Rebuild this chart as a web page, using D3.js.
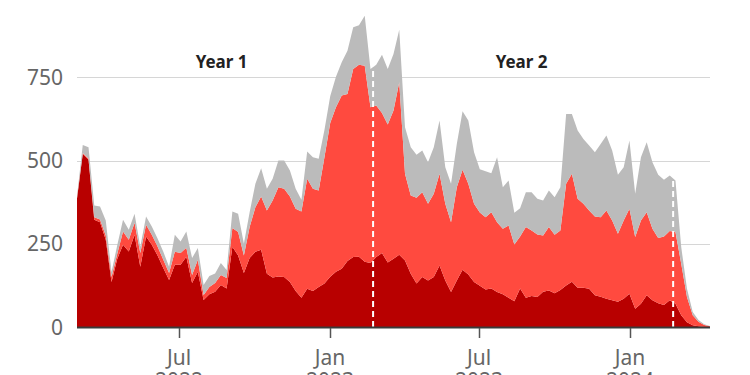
<!DOCTYPE html>
<html>
<head>
<meta charset="utf-8">
<script src="https://cdn.jsdelivr.net/npm/d3@7"></script>
<style>
  body { margin: 0; background: #fff; }
  svg text { font-family: "Noto Sans", sans-serif; }
</style>
</head>
<body>
<script>
var width = 750,
    height = 375;

// weekly series, first week starting Sun 27 Feb 2022
var firstWeek = "2022-02-27";

var darkValues = [385, 520, 502, 322, 315, 262, 135, 205, 247, 227,
    277, 181, 272, 247, 215, 177, 141, 187, 187, 211,
    132, 166, 81, 98, 106, 126, 116, 241, 215, 162,
    207, 226, 232, 160, 149, 152, 150, 135, 108, 88,
    115, 108, 120, 131, 151, 166, 175, 198, 210, 211,
    196, 192, 210, 222, 194, 205, 217, 200, 160, 131,
    150, 140, 150, 185, 140, 105, 140, 172, 158, 135,
    124, 113, 116, 105, 98, 88, 77, 116, 88, 93,
    90, 106, 110, 101, 111, 125, 136, 118, 118, 115,
    95, 91, 85, 80, 76, 85, 100, 55, 70, 95,
    80, 71, 66, 80, 70, 35, 14, 5, 2, 0, 0];

var redValues = [3, 3, 4, 8, 8, 13, 15, 15, 40, 35,
    36, 41, 35, 30, 27, 25, 21, 39, 35, 27,
    24, 36, 15, 22, 26, 30, 31, 56, 70, 53,
    93, 134, 160, 190, 231, 268, 265, 257, 247, 259,
    330, 307, 290, 379, 462, 494, 520, 502, 565, 577,
    589, 468, 455, 421, 414, 445, 518, 260, 235, 257,
    255, 230, 250, 275, 230, 210, 280, 300, 272, 235,
    220, 217, 229, 210, 197, 217, 171, 156, 212, 197,
    188, 169, 190, 176, 179, 305, 324, 267, 252, 235,
    237, 239, 265, 240, 204, 235, 255, 215, 250, 250,
    215, 196, 206, 208, 215, 155, 76, 30, 14, 6, 2];

var greyValues = [4, 24, 34, 35, 39, 45, 15, 26, 35, 30,
    27, 19, 25, 25, 24, 24, 19, 51, 35, 49,
    51, 35, 30, 33, 29, 36, 24, 50, 55, 35,
    45, 70, 85, 65, 65, 80, 85, 78, 60, 35,
    82, 95, 95, 82, 80, 92, 100, 130, 125, 118,
    150, 115, 123, 175, 167, 170, 158, 140, 145, 129,
    125, 125, 140, 160, 110, 115, 130, 176, 190, 155,
    130, 138, 117, 195, 125, 135, 95, 85, 105, 115,
    107, 105, 110, 113, 130, 210, 180, 205, 195, 195,
    193, 220, 225, 210, 177, 160, 205, 130, 190, 210,
    200, 190, 170, 167, 155, 50, 25, 10, 5, 2, 1];

var yTicks = [0, 250, 500, 750];
var xTickDates = ["2022-07-01", "2023-01-01", "2023-07-01", "2024-01-01"];
var xTickMonths = ["Jul", "Jan", "Jul", "Jan"];
var xTickYears = ["2022", "2023", "2023", "2024"];
var yearStarts = ["2022-02-24", "2023-02-24", "2024-02-24"];
var yearLabels = ["Year 1", "Year 2"];

var keys = ["dark", "red", "grey"];
var colors = ["#b80000", "#ff4a3f", "#bbbbbb"];

var parseDate = d3.timeParse("%Y-%m-%d");
var start = parseDate(firstWeek);

var rows = darkValues.map(function (v, i) {
    return {
        date: d3.timeDay.offset(start, 7 * i),
        dark: v,
        red: redValues[i],
        grey: greyValues[i]
    };
});

var x = d3.scaleTime()
    .domain([rows[0].date, rows[rows.length - 1].date])
    .range([77, 710]);

var y = d3.scaleLinear()
    .domain([0, 750])
    .range([327, 77.3]);

var svg = d3.select("body").append("svg")
    .attr("width", width)
    .attr("height", height);

// gridlines
svg.append("g").selectAll("line")
    .data(yTicks.slice(1))
    .enter().append("line")
    .attr("x1", 77)
    .attr("x2", 710)
    .attr("y1", function (d) { return Math.round(y(d)) + 0.5; })
    .attr("y2", function (d) { return Math.round(y(d)) + 0.5; })
    .attr("stroke", "#d6d6d6")
    .attr("stroke-width", 1);

// y labels
svg.append("g").selectAll("text")
    .data(yTicks)
    .enter().append("text")
    .attr("x", 63)
    .attr("y", function (d) { return y(d); })
    .attr("dy", "0.36em")
    .attr("text-anchor", "end")
    .attr("font-size", 21)
    .attr("fill", "#666")
    .text(function (d) { return d; });

var stack = d3.stack().keys(keys);
var layers = stack(rows);

var area = d3.area()
    .x(function (d) { return x(d.data.date); })
    .y0(function (d) { return y(d[0]); })
    .y1(function (d) { return y(d[1]); });

svg.append("g").selectAll("path")
    .data(layers)
    .enter().append("path")
    .attr("d", area)
    .attr("fill", function (d, i) { return colors[i]; });

// dashed year dividers, clipped to the filled area
var topLayer = layers[layers.length - 1];
svg.append("clipPath")
    .attr("id", "areaClip")
    .append("path")
    .attr("d", d3.area()
        .x(function (d) { return x(d.data.date); })
        .y0(y(0))
        .y1(function (d) { return y(d[1]); })(topLayer));

svg.append("g")
    .attr("clip-path", "url(#areaClip)")
    .selectAll("line")
    .data(yearStarts.slice(1))
    .enter().append("line")
    .attr("x1", function (d) { return x(parseDate(d)) - 1.5; })
    .attr("x2", function (d) { return x(parseDate(d)) - 1.5; })
    .attr("y1", y(0))
    .attr("y2", 40)
    .attr("stroke", "#fff")
    .attr("stroke-width", 2)
    .attr("stroke-dasharray", "6,4");

// year labels
svg.append("g").selectAll("text")
    .data(yearLabels)
    .enter().append("text")
    .attr("x", function (d, i) {
        return (x(parseDate(yearStarts[i])) + x(parseDate(yearStarts[i + 1]))) / 2 - 3;
    })
    .attr("y", 68)
    .attr("text-anchor", "middle")
    .attr("font-size", 17)
    .attr("font-weight", "bold")
    .attr("fill", "#222")
    .text(function (d) { return d; });

// x axis
svg.append("line")
    .attr("x1", 77)
    .attr("x2", 710)
    .attr("y1", 327.5)
    .attr("y2", 327.5)
    .attr("stroke", "#3a3a3a")
    .attr("stroke-width", 2);

var xt = svg.append("g").selectAll("g")
    .data(xTickDates)
    .enter().append("g")
    .attr("transform", function (d) { return "translate(" + Math.round(x(parseDate(d))) + ",0)"; });

xt.append("line")
    .attr("x1", 0.5).attr("x2", 0.5)
    .attr("y1", 328).attr("y2", 338)
    .attr("stroke", "#555")
    .attr("stroke-width", 1.5);

xt.append("text")
    .attr("y", 365)
    .attr("text-anchor", "middle")
    .attr("font-size", 21)
    .attr("fill", "#666")
    .text(function (d, i) { return xTickMonths[i]; });

xt.append("text")
    .attr("y", 388)
    .attr("text-anchor", "middle")
    .attr("font-size", 21)
    .attr("fill", "#666")
    .text(function (d, i) { return xTickYears[i]; });
</script>
</body>
</html>
